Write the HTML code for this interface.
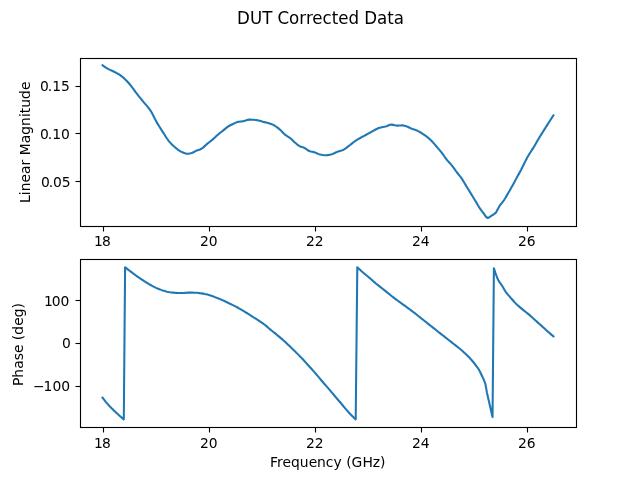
<!DOCTYPE html>
<html lang="en"><head><meta charset="utf-8"><title>DUT Corrected Data</title>
<style>html,body{margin:0;padding:0;background:#fff}svg{display:block}</style></head>
<body>
<svg width="640" height="480" viewBox="0 0 640 480">
<rect width="640" height="480" fill="#fff"/>
<g fill="none" stroke="#1f77b4" stroke-width="2.083" stroke-linejoin="round" stroke-linecap="square">
<polyline points="102.55,65.24 104.04,66.38 105.54,67.41 106.4,67.95 107.04,68.32 108.5,69.1 108.54,69.12 110.04,69.86 111.53,70.55 113.03,71.23 114.53,71.94 116,72.7 116.03,72.71 117.53,73.56 119.02,74.46 120.52,75.46 121,75.8 122.02,76.58 123.52,77.85 125.02,79.24 126,80.2 126.51,80.71 128.01,82.3 129.51,84.01 131,85.8 131.01,85.81 132.51,87.77 134,89.86 135.5,91.94 136,92.6 137,93.89 138.5,95.79 140,97.65 141,98.9 141.49,99.52 142.99,101.38 144,102.6 144.49,103.17 145.99,104.89 146,104.9 147.49,106.65 148.98,108.47 150.48,110.52 150.6,110.7 151.98,113.04 153.48,115.98 154.98,119.03 156.47,121.85 156.5,121.9 157.97,124.39 159.47,126.8 160.97,129.15 162.47,131.46 162.75,131.9 163.96,133.81 165.46,136.2 166.96,138.5 168.46,140.58 169,141.25 169.96,142.36 171.45,143.99 172.95,145.47 174.45,146.82 175.25,147.5 175.95,148.08 177.45,149.3 178.94,150.43 180.44,151.38 181.5,151.9 181.94,152.08 183.44,152.71 184.94,153.25 186.43,153.63 187.75,153.75 187.93,153.75 189.43,153.58 190.93,153.24 191.5,153.1 192.43,152.78 193.92,152 195.42,151.13 196.5,150.6 196.92,150.43 198.42,149.92 199.92,149.43 201.41,148.79 201.5,148.75 202.91,147.77 204.41,146.37 205.91,144.92 206.5,144.4 207.41,143.66 208.9,142.47 210.4,141.3 211.9,140.11 212.75,139.4 213.4,138.84 214.9,137.47 216.39,136.07 217.89,134.7 219,133.75 219.39,133.43 220.89,132.29 222.25,131.25 222.39,131.14 223.88,129.9 225.38,128.61 226.88,127.38 228.38,126.32 228.5,126.25 229.88,125.47 231.38,124.72 232.87,124.03 233.5,123.75 234.37,123.33 235.87,122.61 237.37,122.03 237.9,121.9 238.87,121.74 240.36,121.56 241.86,121.4 242.9,121.25 243.36,121.16 244.86,120.76 246.36,120.27 247.85,119.85 249.35,119.61 249.75,119.6 250.85,119.62 252.35,119.69 253.85,119.8 255.34,119.93 256,120 256.84,120.11 258.34,120.42 259.84,120.82 261.34,121.27 262.83,121.71 263.5,121.9 264.33,122.12 265.83,122.49 267.33,122.86 268.83,123.26 270.32,123.7 271.82,124.23 272.25,124.4 273.32,124.89 274.82,125.74 276.32,126.76 277.81,127.89 279.31,129.1 280.4,130 280.81,130.36 282.31,131.91 283.81,133.52 284.75,134.4 285.3,134.84 286.8,135.9 288.3,136.85 289.8,137.84 291,138.75 291.3,139 292.79,140.48 294.25,141.9 294.29,141.94 295.79,143.26 297.29,144.54 298.79,145.63 299.9,146.25 300.28,146.41 301.78,146.9 303.28,147.37 303.6,147.5 304.78,148.14 306.28,149.19 307.77,150.25 309.25,151 309.27,151.01 310.77,151.44 312.27,151.77 313.77,152.11 314.25,152.25 315.26,152.6 316.76,153.24 318.26,153.89 319.76,154.42 320.5,154.6 321.26,154.74 322.75,155.01 324.25,155.19 325.5,155.25 325.75,155.25 327.25,155.14 328.75,154.93 330.24,154.65 330.5,154.6 331.74,154.27 333.24,153.67 334.74,152.95 336.24,152.23 337.73,151.59 338,151.5 339.23,151.13 340.73,150.73 342.23,150.29 343,150 343.73,149.65 345.22,148.71 346.72,147.57 348.22,146.38 349.25,145.6 349.72,145.26 351.22,144.11 352.71,142.94 354.21,141.79 355.71,140.69 356.75,140 357.21,139.71 358.71,138.83 360.21,138 361.7,137.2 363,136.5 363.2,136.39 364.7,135.59 366.2,134.78 366.25,134.75 367.7,133.94 369.19,133.09 370.69,132.24 372.19,131.42 372.5,131.25 373.69,130.6 375.19,129.76 376.68,128.97 378.18,128.31 378.75,128.1 379.68,127.81 381.18,127.42 382.68,127.09 384.17,126.77 385.67,126.41 386.25,126.25 387.17,125.93 388.67,125.28 390.17,124.75 391.25,124.6 391.66,124.62 393.16,124.87 394.66,125.25 396.16,125.55 396.9,125.6 397.66,125.59 399.15,125.53 400.65,125.45 402.15,125.4 402.5,125.4 403.65,125.52 405.15,125.91 406.25,126.25 406.64,126.37 408.14,126.99 409.64,127.72 411.14,128.43 411.9,128.75 412.64,129.02 414.13,129.5 415.63,130.01 416.25,130.25 417.13,130.64 418.63,131.4 420.13,132.24 421.25,132.9 421.62,133.12 423.12,134.06 424.62,135.07 426.12,136.15 426.25,136.25 427.62,137.33 429.11,138.6 430.61,139.98 431.25,140.6 432.11,141.48 433.61,143.15 435.11,144.91 436.25,146.25 436.6,146.66 438.1,148.39 439.6,150.15 441.1,151.96 442,153.1 442.6,153.89 444.09,155.99 445.59,158.13 447,160 447.09,160.11 448.59,161.83 450.09,163.42 451.58,165.1 452,165.6 453.08,167.01 454.58,169.12 456.08,171.25 457,172.5 457.58,173.23 459.07,175.04 460.57,176.92 461,177.5 462.07,179.09 463.57,181.53 465.07,184.05 466,185.6 466.56,186.52 468.06,188.96 469.56,191.4 471,193.75 471.06,193.85 472.56,196.28 474.05,198.72 475.55,201.17 476,201.9 477.05,203.67 478.55,206.21 479.75,208.1 480.05,208.53 481.54,210.6 483.04,212.52 483.5,213.1 484.54,214.61 486.04,216.85 487.54,217.96 487.6,217.96 489.04,217.47 490.53,216.37 491.6,215.6 492.03,215.34 493.53,214.48 495.03,213.43 495.4,213.1 496.53,211.59 498.02,208.74 499.52,205.95 499.75,205.6 501.02,203.89 502.52,202.08 504.02,200.12 504.1,200 505.51,197.75 507.01,195.13 508.5,192.5 508.51,192.48 510.01,189.9 511.51,187.29 513,184.64 513.5,183.75 514.5,181.92 516,179.13 517.5,176.34 517.9,175.6 519,173.63 520.49,170.94 521,170 521.99,168.07 523.49,164.99 524.99,161.88 526.49,158.91 527.25,157.5 527.98,156.23 529.48,153.79 530.98,151.47 532.48,149.14 533.5,147.5 533.98,146.71 535.47,144.18 536.97,141.6 538.47,139.04 539.75,136.9 539.97,136.54 541.47,134.1 542.96,131.7 544.46,129.32 545.96,126.96 546,126.9 547.46,124.62 548.96,122.28 550.45,119.97 551.95,117.68 553.45,115.4"/>
<polyline points="102.55,397.6 104.06,399.61 105.58,401.55 107.1,403.39 108.5,405 108.62,405.13 110.14,406.77 111.65,408.32 113.17,409.81 114.69,411.27 116,412.5 116.21,412.7 117.73,414.1 119.25,415.48 120.76,416.82 122.28,418.13 123.8,419.4 125.1,267.3 126.6,268.45 128.09,269.59 129.59,270.72 131.09,271.85 132.5,272.9 132.59,272.96 134.08,274.09 135.58,275.21 137.08,276.31 138.58,277.38 138.75,277.5 140.07,278.41 141.57,279.4 143.07,280.37 144.57,281.33 145,281.6 146.06,282.27 147.56,283.22 149.06,284.14 150.56,285.01 151.25,285.4 152.05,285.84 153.55,286.63 155.05,287.38 156.55,288.09 157.5,288.5 158.04,288.72 159.54,289.32 161.04,289.87 162.54,290.38 163.75,290.75 164.03,290.83 165.53,291.26 167.03,291.65 168.52,291.99 170,292.25 170.02,292.25 171.52,292.47 173.02,292.65 174.51,292.8 176.01,292.89 176.25,292.9 177.51,292.93 179.01,292.97 180.5,292.99 182,293 182.5,293 183.5,292.97 185,292.86 186.49,292.72 187.99,292.62 188.75,292.6 189.49,292.6 190.99,292.61 192.48,292.64 193.98,292.67 195,292.7 195.48,292.72 196.98,292.83 198.47,292.98 199.5,293.1 199.97,293.16 201.47,293.36 202.96,293.61 204.46,293.89 204.5,293.9 205.96,294.22 207.46,294.61 208.95,295.05 210.45,295.51 210.75,295.6 211.95,295.99 213.45,296.53 214.94,297.1 216.44,297.68 217,297.9 217.94,298.27 219.44,298.87 220.93,299.5 222.43,300.14 223.25,300.5 223.93,300.81 225.43,301.51 226.92,302.23 228.42,302.97 229.5,303.5 229.92,303.7 231.42,304.43 232.91,305.16 234.41,305.91 235.75,306.6 235.91,306.68 237.41,307.49 238.9,308.32 240.4,309.17 241.9,310.04 242,310.1 243.39,310.92 244.89,311.83 246.39,312.74 247.89,313.67 248.25,313.9 249.38,314.61 250.88,315.57 252.38,316.53 253.88,317.5 254.5,317.9 255.37,318.45 256.87,319.39 258.37,320.33 259.87,321.3 260.75,321.9 261.36,322.33 262.86,323.4 264.36,324.51 265.86,325.67 267,326.6 267.35,326.9 268.85,328.25 270.25,329.5 270.35,329.58 271.85,330.81 273.34,332 274.84,333.17 276.34,334.37 276.5,334.5 277.84,335.59 279.33,336.83 280.83,338.09 282.33,339.38 282.75,339.75 283.82,340.72 285.32,342.11 286.82,343.52 288.32,344.95 289,345.6 289.81,346.37 291.31,347.8 292.81,349.23 294.31,350.68 295.25,351.6 295.8,352.15 297.3,353.63 298.8,355.12 300.3,356.65 301.5,357.9 301.79,358.21 303.29,359.82 304.79,361.47 306.29,363.13 307.75,364.75 307.78,364.79 309.28,366.42 310.78,368.04 312.28,369.68 313.77,371.34 314,371.6 315.27,373.06 316.5,374.5 316.77,374.82 318.26,376.61 319.76,378.42 321.26,380.23 322.75,382 322.76,382.01 324.25,383.73 325.75,385.41 327.25,387.09 328.75,388.81 329,389.1 330.24,390.57 331.74,392.37 333.24,394.19 334.74,395.99 335.25,396.6 336.23,397.76 337.73,399.51 339.23,401.25 340.73,402.99 341.5,403.9 342.22,404.76 343.72,406.57 345.22,408.37 346.72,410.14 347.75,411.3 348.21,411.81 349.71,413.42 351.21,414.99 352.71,416.51 354.2,417.98 355.7,419.4 357.3,267.3 358.8,268.7 360.31,270.07 361.81,271.42 362.75,272.25 363.31,272.74 364.81,274.01 366.32,275.26 367.82,276.51 369,277.5 369.32,277.78 370.82,279.08 372.33,280.39 373.83,281.7 375.25,282.9 375.33,282.97 376.84,284.2 378.34,285.4 379.84,286.58 381.34,287.78 381.5,287.9 382.85,288.98 384.35,290.18 385.85,291.38 387.36,292.58 387.75,292.9 388.86,293.79 390.36,295.01 391.86,296.22 393.37,297.41 394,297.9 394.87,298.56 396.37,299.68 397.88,300.78 399.38,301.87 400.25,302.5 400.88,302.96 402.38,304.04 403.89,305.12 405.39,306.2 406.5,307 406.89,307.28 408.39,308.38 409.9,309.47 411.4,310.58 412.75,311.6 412.9,311.72 414.41,312.87 415.91,314.05 417.41,315.24 418.91,316.44 420.42,317.63 420.5,317.7 421.92,318.83 423.42,320.04 424.93,321.25 426.43,322.44 426.75,322.7 427.93,323.63 429.43,324.81 430.94,325.98 432.44,327.16 433,327.6 433.94,328.35 435.44,329.55 436.95,330.76 438.45,331.96 439.25,332.6 439.95,333.16 441.46,334.34 442.96,335.51 444.46,336.69 445.5,337.5 445.96,337.86 447.47,339.04 448.97,340.22 450.47,341.4 451.75,342.4 451.98,342.58 453.48,343.74 454.98,344.91 456.48,346.09 457.99,347.29 458,347.3 459.49,348.51 460.99,349.76 462.49,351.05 463,351.5 464,352.4 465.5,353.8 467,355.26 468,356.25 468.51,356.76 470.01,358.33 471.51,359.98 471.75,360.25 473.01,361.75 474.52,363.64 474.8,364 476.02,365.54 477.52,367.53 478.5,369 479.02,369.89 480.53,372.8 482.03,376.02 482.25,376.5 483.53,379.11 485.04,382.8 485.4,384 486.54,390.43 486.95,392.75 488.04,397.53 489,401.5 489.54,403.92 490.95,410.25 491.05,410.68 492.55,417.1 493.9,268.3 495.39,272.91 495.6,273.5 496.88,276.96 498.1,279.75 498.37,280.25 499.85,282.63 501.34,284.72 502.2,286 502.83,287.04 504.32,289.6 505.81,291.98 506,292.25 507.3,293.94 508.79,295.67 510.28,297.35 510.5,297.6 511.76,299.05 513.25,300.73 514.74,302.36 516.23,303.88 516.25,303.9 517.72,305.29 519.21,306.61 520.7,307.89 522.19,309.14 522.5,309.4 523.67,310.36 525.16,311.53 526.65,312.7 528.14,313.89 528.75,314.4 529.63,315.16 531.12,316.48 532.61,317.83 534.1,319.18 535,320 535.59,320.52 537.07,321.86 538.56,323.19 540.05,324.52 541.25,325.6 541.54,325.86 543.03,327.21 544.52,328.57 546.01,329.92 547.5,331.25 547.5,331.25 548.98,332.56 550.47,333.85 551.96,335.13 553.45,336.4"/>
</g>
<g fill="none" stroke="#000" stroke-width="1.11" stroke-linecap="square">
<rect x="80.5" y="58.5" width="496" height="168"/>
<rect x="80.5" y="259.5" width="496" height="168"/>
</g>
<g stroke="#000" stroke-width="1.11">
<line x1="103.5" y1="226.5" x2="103.5" y2="231.5"/>
<line x1="103.5" y1="427.5" x2="103.5" y2="432.5"/>
<line x1="209.5" y1="226.5" x2="209.5" y2="231.5"/>
<line x1="209.5" y1="427.5" x2="209.5" y2="432.5"/>
<line x1="315.5" y1="226.5" x2="315.5" y2="231.5"/>
<line x1="315.5" y1="427.5" x2="315.5" y2="432.5"/>
<line x1="421.5" y1="226.5" x2="421.5" y2="231.5"/>
<line x1="421.5" y1="427.5" x2="421.5" y2="432.5"/>
<line x1="527.5" y1="226.5" x2="527.5" y2="231.5"/>
<line x1="527.5" y1="427.5" x2="527.5" y2="432.5"/>
<line x1="75.5" y1="86.5" x2="80.5" y2="86.5"/>
<line x1="75.5" y1="133.5" x2="80.5" y2="133.5"/>
<line x1="75.5" y1="181.5" x2="80.5" y2="181.5"/>
<line x1="75.5" y1="300.5" x2="80.5" y2="300.5"/>
<line x1="75.5" y1="343.5" x2="80.5" y2="343.5"/>
<line x1="75.5" y1="386.5" x2="80.5" y2="386.5"/>
</g>
<g font-family="'DejaVu Sans', 'Liberation Sans', sans-serif" font-size="13.889px" fill="#000">
<text transform="translate(0,24) scale(1,1.07)" x="237 250 262.25 269.75 277.5 289 299.25 306 312.25 322.5 331.75 338.25 348.5 356.5 364.25 377 387.25 393.75" y="0" font-size="16.667px">DUT Corrected Data</text>
<text x="270 277 282.5 291 299.75 308.75 317 325.75 333.5 339.75 346.25 351.5 362.5 372.75 380" y="467">Frequency (GHz)</text>
<text transform="translate(30,480) rotate(-90)" x="277 284.75 288.75 297.5 306 314.5 319.5 324.75 336.75 345.25 354 363 366.75 372.25 381 390" y="0">Linear Magnitude</text>
<text transform="translate(23,480) rotate(-90)" x="94 102.25 111.25 119.75 127 133.5 139.75 145.25 154.25 162.75 171.5" y="0">Phase (deg)</text>
<text x="94 102" y="246">18</text>
<text x="94 102" y="448">18</text>
<text x="200 208.75" y="246">20</text>
<text x="200 208.75" y="448">20</text>
<text x="306 314.75" y="246">22</text>
<text x="306 314.75" y="448">22</text>
<text x="412 420.75" y="246">24</text>
<text x="412 420.75" y="448">24</text>
<text x="518 526.75" y="246">26</text>
<text x="518 526.75" y="448">26</text>
<text x="40 47.75 52.25 61" y="91">0.15</text>
<text x="40 47.75 52.25 61" y="139">0.10</text>
<text x="41 48.75 53 61.75" y="187">0.05</text>
<text x="44 51.75 60.5" y="306">100</text>
<text x="62" y="348">0</text>
<text x="33 43.5 52.5 61.25" y="391">−100</text>
</g>
</svg>
</body></html>
